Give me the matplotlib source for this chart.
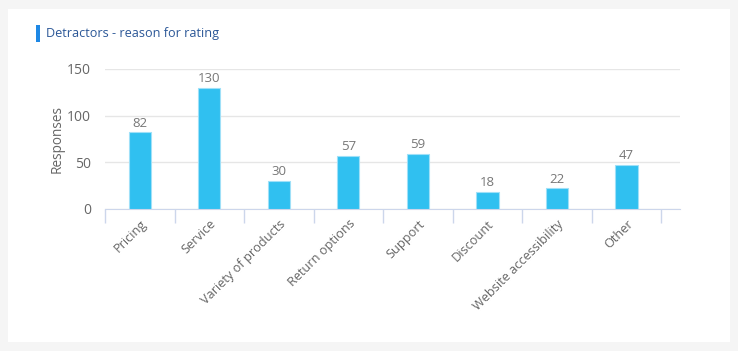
import matplotlib.pyplot as plt
from matplotlib.patches import Rectangle

categories = ['Pricing', 'Service', 'Variety of products', 'Return options',
              'Support', 'Discount', 'Website accessibility', 'Other']
responses = [82, 130, 30, 57, 59, 18, 22, 47]
yticks = [0, 50, 100, 150]

plt.rcParams['font.family'] = ['Open Sans', 'DejaVu Sans']

fig = plt.figure(figsize=(7.38, 3.51), dpi=100)
fig.patch.set_facecolor('#f5f5f5')
# white card
fig.patches.append(Rectangle((8 / 738, 9 / 351), 722 / 738, 333 / 351,
                             transform=fig.transFigure, facecolor='white',
                             edgecolor='none', zorder=-2))
# title marker + title
fig.patches.append(Rectangle((36 / 738, 1 - 42 / 351), 4 / 738, 17 / 351,
                             transform=fig.transFigure, facecolor='#1e88e5',
                             edgecolor='none', zorder=-1))
fig.text(46 / 738, 1 - 33 / 351, 'Detractors - reason for rating', fontsize=9.1,
         color='#2b5797', va='center', ha='left')

ax = fig.add_axes([105 / 738, 1 - 209 / 351, 575 / 738, 140 / 351])
ax.set_facecolor('white')
x = range(len(categories))
bars = ax.bar(x, responses, width=0.32, color='#30c0f0', edgecolor='#9fe0f8',
              linewidth=0.8, zorder=3)
for b, v in zip(bars, responses):
    ax.text(b.get_x() + b.get_width() / 2, v + 3, str(v), ha='center', va='bottom',
            fontsize=9.5, color='#777777')

ax.set_ylim(0, 150)
ax.set_xlim(-0.5, 7.77)
ax.set_yticks(yticks)
ax.yaxis.grid(True, color='#e6e6e6', linewidth=1, zorder=0)
ax.set_axisbelow(True)
for s in ['top', 'right', 'left']:
    ax.spines[s].set_visible(False)
ax.spines['bottom'].set_color('#ccd6eb')
ax.tick_params(axis='y', length=0, labelsize=10, labelcolor='#666666', pad=10)

ax.set_xticks([i + 0.5 for i in range(-1, len(categories))], minor=False)
ax.set_xticklabels([])
ax.tick_params(axis='x', which='major', length=10, color='#ccd6eb', width=1)
ax.set_xticks(list(x), minor=True)
ax.set_xticklabels(categories, minor=True, rotation=45, ha='right',
                   rotation_mode='anchor', fontsize=9.2, color='#666666')
ax.tick_params(axis='x', which='minor', length=0, pad=6)

ax.set_ylabel('Responses', fontsize=9.8, color='#666666', labelpad=2)

fig.savefig('out.png', dpi=100, facecolor=fig.get_facecolor())
